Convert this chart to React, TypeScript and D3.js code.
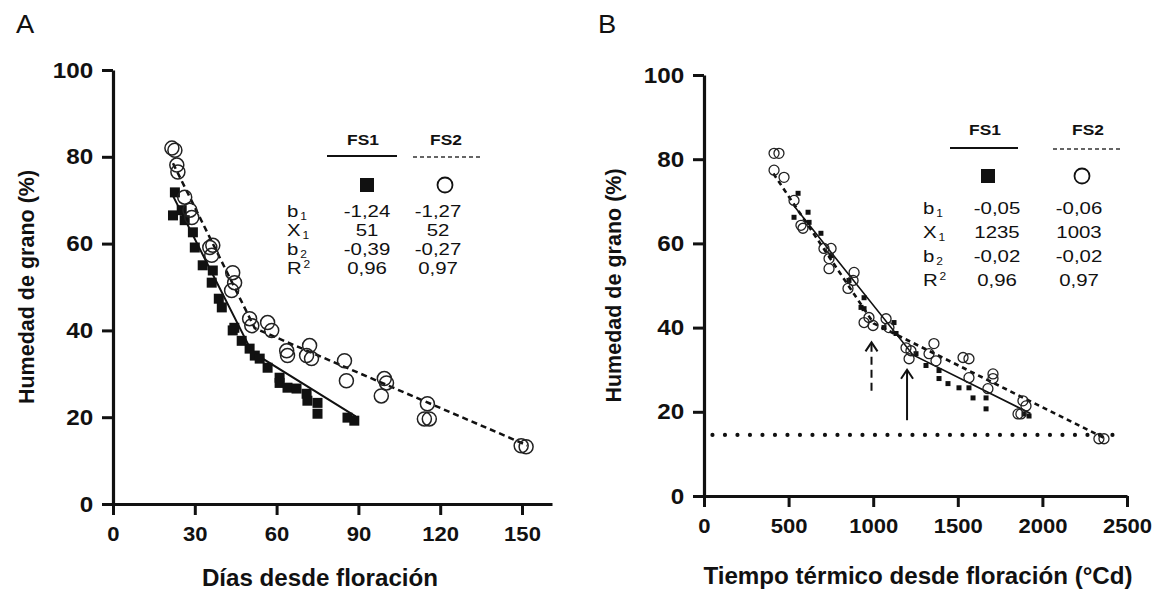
import { useRef, useEffect } from 'react';
import * as d3 from 'd3';

type Pt = [number, number];

const W = 1155, H = 593;
const FONT = "'Liberation Sans', Arial, Helvetica, sans-serif";

// ---- Panel A: días desde floración vs humedad de grano (%)
const fs1A: Pt[] = [
  [22.7, 71.8], [22.0, 66.5], [25.2, 67.7], [26.3, 65.4], [29.3, 62.6], [30.0, 59.1],
  [32.9, 55.0], [36.6, 53.8], [36.2, 51.0], [38.8, 47.3], [39.9, 45.3], [43.9, 40.0],
  [44.5, 40.6], [47.2, 37.6], [50.1, 35.8], [52.0, 34.2], [53.8, 33.5], [56.7, 31.4],
  [61.1, 29.1], [61.1, 27.9], [64.0, 26.8], [67.3, 26.6], [71.0, 25.4], [71.3, 23.8],
  [75.0, 23.3], [75.0, 20.8], [86.0, 19.9], [88.5, 19.2]
];
const fs2A: Pt[] = [
  [21.6, 82.0], [22.7, 81.5], [23.4, 78.1], [23.8, 76.5], [26.3, 70.7], [28.2, 67.7],
  [28.9, 66.0], [35.5, 59.1], [36.6, 59.6], [36.2, 57.3], [43.9, 53.3], [44.6, 51.0],
  [43.5, 49.2], [50.1, 42.7], [50.9, 41.1], [56.7, 41.8], [58.2, 40.0], [63.7, 35.3],
  [64.0, 34.2], [72.1, 36.5], [71.0, 34.2], [72.8, 33.5], [84.9, 33.0], [85.6, 28.4],
  [99.5, 28.9], [100.3, 27.9], [98.4, 24.9], [115.3, 23.1], [114.2, 19.6], [116.0, 19.6],
  [149.7, 13.4], [151.5, 13.2]
];
const fitFs1A: Pt[] = [[22, 71], [51, 35], [89, 20.2]];
const fitFs2A: Pt[] = [[22, 78.5], [52, 40.5], [152, 13.5]];
const xTicksA = [0, 30, 60, 90, 120, 150];

// ---- Panel B: tiempo térmico desde floración (°Cd) vs humedad de grano (%)
const fs1B: Pt[] = [
  [556, 71.9], [532, 66.2], [615, 67.4], [621, 65.0], [691, 62.4], [751, 57.1],
  [857, 51.2], [928, 44.8], [946, 47.1], [946, 44.5], [1064, 40.0], [1123, 41.2],
  [1135, 38.6], [1253, 33.8], [1312, 31.0], [1389, 29.8], [1389, 27.9], [1442, 26.7],
  [1507, 25.7], [1566, 25.7], [1590, 23.3], [1667, 23.3], [1667, 20.7], [1891, 19.5],
  [1921, 19.0]
];
const fs2B: Pt[] = [
  [414, 81.4], [443, 81.4], [414, 77.4], [473, 75.7], [532, 70.2], [573, 64.3],
  [585, 63.6], [709, 58.8], [751, 58.8], [739, 56.4], [739, 54.0], [887, 53.1],
  [881, 51.2], [851, 49.3], [946, 41.2], [975, 42.4], [999, 40.5], [1076, 42.1],
  [1093, 40.0], [1194, 35.2], [1223, 34.5], [1212, 32.6], [1359, 36.2], [1330, 33.8],
  [1371, 32.1], [1531, 32.9], [1566, 32.6], [1566, 28.1], [1708, 29.0], [1708, 27.9],
  [1678, 25.5], [1856, 19.5], [1885, 22.6], [1903, 21.4], [1873, 19.5], [2334, 13.6],
  [2364, 13.6]
];
const fitFs1B: Pt[] = [[530, 69], [1235, 33.5], [1930, 19.6]];
const fitFs2B: Pt[] = [[410, 76.6], [1003, 41], [2380, 13.5]];
const thresholdB = 14.5;
const thresholdRangeB = [50, 2460];
const arrowDashedB = { x: 990, from: 25, to: 36.5 };
const arrowSolidB = { x: 1200, from: 18, to: 30 };
const xTicksB = [0, 500, 1000, 1500, 2000, 2500];

const yTicks = [0, 20, 40, 60, 80, 100];

// ---- legend tables
const legendLabels = [['b', '1', 'sub'], ['X', '1', 'sub'], ['b', '2', 'sub'], ['R', '2', 'sup']];
const legendFs1A = ['-1,24', '51', '-0,39', '0,96'];
const legendFs2A = ['-1,27', '52', '-0,27', '0,97'];
const legendFs1B = ['-0,05', '1235', '-0,02', '0,96'];
const legendFs2B = ['-0,06', '1003', '-0,02', '0,97'];

function stext(g: any, x: number, y: number, str: string, size: number, opts: any = {}) {
  const sx = opts.sx ?? 1;
  return g.append('text')
    .attr('transform', `translate(${x},${y}) scale(${sx},1)`)
    .attr('text-anchor', opts.anchor ?? 'middle')
    .attr('font-family', FONT)
    .attr('font-size', size)
    .attr('font-weight', opts.bold ? 'bold' : 'normal')
    .attr('fill', '#111')
    .text(str);
}

function drawAxes(g: any, x: any, y: any, xTicks: number[], xLabel: string, yLabelX: number, xLabelX: number, xLabelY: number) {
  const yAxis = g.append('g')
    .attr('transform', `translate(${x.range()[0]},0)`)
    .call(d3.axisLeft(y).tickValues(yTicks).tickSize(11).tickSizeOuter(0).tickPadding(7)
      .tickFormat(d3.format('d')));
  const xAxis = g.append('g')
    .attr('transform', `translate(0,${y.range()[0]})`)
    .call(d3.axisBottom(x).tickValues(xTicks).tickSize(11).tickSizeOuter(0).tickPadding(11)
      .tickFormat(d3.format('d')));

  [yAxis, xAxis].forEach(ax => {
    ax.select('.domain').attr('stroke', '#111').attr('stroke-width', 3.2);
    ax.selectAll('.tick line').attr('stroke', '#111').attr('stroke-width', 3);
    ax.selectAll('.tick text')
      .attr('font-family', FONT).attr('font-size', 22).attr('font-weight', 'bold')
      .attr('fill', '#111');
  });
  yAxis.selectAll('.tick text').attr('transform', 'scale(1.1,1)');
  xAxis.selectAll('.tick text').attr('font-size', 21).attr('transform', 'scale(1.05,1)');

  stext(g, xLabelX, xLabelY, xLabel, 23, { bold: true, sx: 1.05 });
  const yMid = (y.range()[0] + y.range()[1]) / 2;
  g.append('text')
    .attr('transform', `translate(${yLabelX},${yMid}) rotate(-90)`)
    .attr('text-anchor', 'middle')
    .attr('font-family', FONT).attr('font-size', 21.5).attr('font-weight', 'bold')
    .attr('fill', '#111')
    .text('Humedad de grano (%)');
}

function drawLegend(g: any, L: any, fs1: string[], fs2: string[]) {
  stext(g, L.c1, L.headY, 'FS1', 14.5, { bold: true, sx: 1.2 });
  stext(g, L.c2, L.headY, 'FS2', 14.5, { bold: true, sx: 1.2 });
  g.append('line').attr('x1', L.l1[0]).attr('x2', L.l1[1]).attr('y1', L.lineY).attr('y2', L.lineY)
    .attr('stroke', '#111').attr('stroke-width', 2.2);
  g.append('line').attr('x1', L.l2[0]).attr('x2', L.l2[1]).attr('y1', L.lineY + 1).attr('y2', L.lineY + 1)
    .attr('stroke', '#333').attr('stroke-width', 1.4).attr('stroke-dasharray', '4,3');
  g.append('rect').attr('x', L.m1 - 7).attr('y', L.markY - 7).attr('width', 14).attr('height', 14).attr('fill', '#111');
  g.append('circle').attr('cx', L.m2).attr('cy', L.markY).attr('r', 7.5)
    .attr('fill', 'none').attr('stroke', '#111').attr('stroke-width', 1.8);

  legendLabels.forEach(([base, idx, kind], i) => {
    const yy = L.rows[i];
    const t = g.append('text')
      .attr('transform', `translate(${L.labX},${yy}) scale(1.2,1)`)
      .attr('font-family', FONT).attr('font-size', 17).attr('fill', '#111');
    t.append('tspan').text(base);
    t.append('tspan').attr('font-size', 10).attr('dx', 1.5)
      .attr('dy', kind === 'sub' ? 3 : -6).text(idx);
    stext(g, L.v1, yy, fs1[i], 17, { sx: 1.2 });
    stext(g, L.v2, yy, fs2[i], 17, { sx: 1.2 });
  });
}

function drawSeries(g: any, x: any, y: any, sq: Pt[], circ: Pt[], fit1: Pt[], fit2: Pt[], S: any) {
  const line = d3.line<Pt>().x(d => x(d[0])).y(d => y(d[1]));
  g.append('path').attr('d', line(fit2)).attr('fill', 'none')
    .attr('stroke', '#111').attr('stroke-width', S.dashW).attr('stroke-dasharray', S.dash);
  g.append('path').attr('d', line(fit1)).attr('fill', 'none')
    .attr('stroke', '#111').attr('stroke-width', S.solidW);

  g.selectAll('.sq').data(sq).enter().append('rect')
    .attr('x', (d: Pt) => x(d[0]) - S.sq / 2).attr('y', (d: Pt) => y(d[1]) - S.sq / 2)
    .attr('width', S.sq).attr('height', S.sq).attr('fill', '#111');
  g.selectAll('.ci').data(circ).enter().append('circle')
    .attr('cx', (d: Pt) => x(d[0])).attr('cy', (d: Pt) => y(d[1])).attr('r', S.r)
    .attr('fill', 'none').attr('stroke', '#222').attr('stroke-width', S.cw);
}

function drawArrow(g: any, x: number, y0: number, y1: number, dashed: boolean) {
  g.append('line').attr('x1', x).attr('x2', x).attr('y1', y0).attr('y2', y1 + 1)
    .attr('stroke', '#111').attr('stroke-width', 2)
    .attr('stroke-dasharray', dashed ? '8,5' : null);
  g.append('polyline')
    .attr('points', `${x - 6},${y1 + 9} ${x},${y1} ${x + 6},${y1 + 9}`)
    .attr('fill', 'none').attr('stroke', '#111').attr('stroke-width', 2);
}

export default function App() {
  const svgRef = useRef<SVGSVGElement>(null);

  useEffect(() => {
    const svg = d3.select(svgRef.current);
    svg.selectAll('*').remove();
    svg.append('rect').attr('width', W).attr('height', H).attr('fill', '#fff');

    // Panel A
    const xA = d3.scaleLinear().domain([0, 161]).range([113, 552]);
    const yA = d3.scaleLinear().domain([0, 100]).range([504, 70]);
    const gA = svg.append('g');
    stext(gA, 25, 33, 'A', 26, { sx: 1.05 });
    drawAxes(gA, xA, yA, xTicksA, 'Días desde floración', 34, 320, 586);
    drawSeries(gA, xA, yA, fs1A, fs2A, fitFs1A, fitFs2A,
      { sq: 10, r: 7, cw: 1.5, solidW: 2, dashW: 2.5, dash: '6,4' });
    drawLegend(gA, {
      c1: 363, c2: 446, headY: 145, l1: [327, 397], l2: [413, 481], lineY: 156,
      m1: 367, m2: 445, markY: 185, labX: 287, v1: 367, v2: 438,
      rows: [217, 236, 255, 274]
    }, legendFs1A, legendFs2A);

    // Panel B
    const xB = d3.scaleLinear().domain([0, 2500]).range([704, 1127]);
    const yB = d3.scaleLinear().domain([0, 100]).range([496, 75]);
    const gB = svg.append('g');
    stext(gB, 607, 33, 'B', 26, { sx: 1.05 });
    drawAxes(gB, xB, yB, xTicksB, 'Tiempo térmico desde floración (°Cd)', 621, 918, 584);

    // umbral de cosecha (línea de puntos)
    gB.append('line')
      .attr('x1', xB(thresholdRangeB[0])).attr('x2', xB(thresholdRangeB[1]))
      .attr('y1', yB(thresholdB)).attr('y2', yB(thresholdB))
      .attr('stroke', '#111').attr('stroke-width', 4.2).attr('stroke-linecap', 'round')
      .attr('stroke-dasharray', '0,12.5');

    drawSeries(gB, xB, yB, fs1B, fs2B, fitFs1B, fitFs2B,
      { sq: 5, r: 5, cw: 1.3, solidW: 1.6, dashW: 2.6, dash: '5,4' });

    drawArrow(gB, xB(arrowDashedB.x), yB(arrowDashedB.from), yB(arrowDashedB.to), true);
    drawArrow(gB, xB(arrowSolidB.x), yB(arrowSolidB.from), yB(arrowSolidB.to), false);

    drawLegend(gB, {
      c1: 985, c2: 1088, headY: 135, l1: [950, 1018], l2: [1053, 1120], lineY: 148,
      m1: 988, m2: 1082, markY: 176, labX: 923, v1: 997, v2: 1079,
      rows: [214, 238, 262, 286]
    }, legendFs1B, legendFs2B);
  }, []);

  return (
    <div style={{ position: 'absolute', left: 0, top: 0 }}>
      <svg ref={svgRef} width={W} height={H} style={{ display: 'block' }}></svg>
    </div>
  );
}
